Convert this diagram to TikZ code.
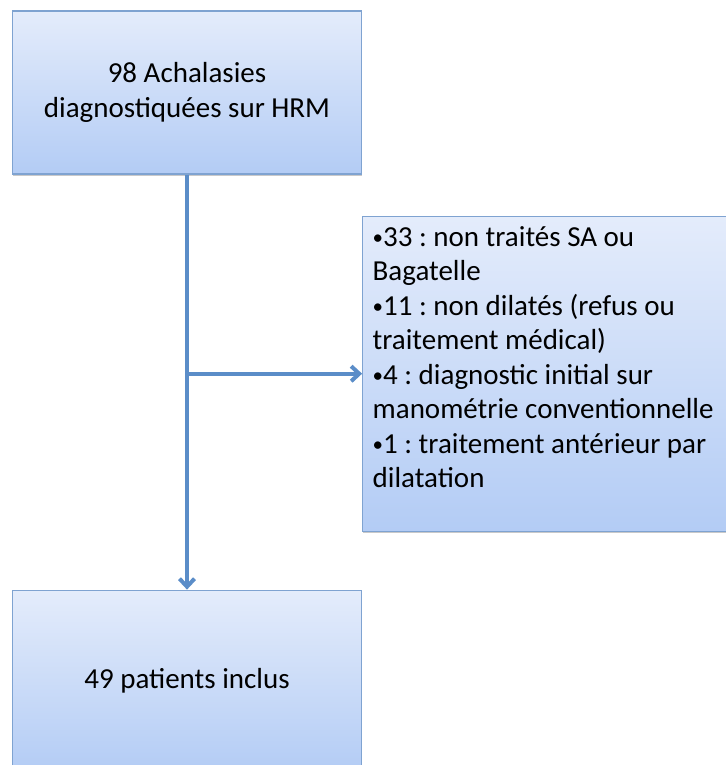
\documentclass[tikz,border=0pt]{standalone}
\usepackage{fontspec}
\setmainfont{Carlito}
\usetikzlibrary{positioning,arrows.meta,shadows}

\definecolor{boxtop}{HTML}{E4ECFB}
\definecolor{boxbottom}{HTML}{B3CCF5}
\definecolor{boxline}{HTML}{7FA3D1}
\definecolor{flowline}{HTML}{5B8DC8}
\newcommand{\blt}{{\fontsize{21}{34.5}\selectfont\raisebox{0.12ex}{•}}}
\frenchspacing

\begin{document}
\begin{tikzpicture}[
        stage/.style={draw=boxline, line width=1.2pt, top color=boxtop, bottom color=boxbottom,
            drop shadow={shadow xshift=0.6pt, shadow yshift=-1.8pt, opacity=0.3, fill=black!70},
            font=\fontsize{29}{34.5}\selectfont, align=center, inner sep=10pt},
        flow/.style={draw=flowline, line width=4pt, -{Straight Barb[length=8pt,width=15pt]}}
        ]
        \useasboundingbox (0,0) rectangle (725pt,-765pt);
        % Nodes
        \node (achal) [stage, minimum width=349pt, minimum height=163pt] at (187pt,-92.5pt) {98 Achalasies\\diagnostiquées sur HRM};
        \node (excl) [stage, below right=41pt and 0pt of achal.south east, minimum width=361pt, minimum height=315pt] {\parbox[c][295pt][t]{352pt}{\raggedright
            \blt33 : non traités SA ou\\Bagatelle\\\blt11 : non dilatés (refus ou\\traitement médical)\\\blt4 : diagnostic initial sur\\manométrie conventionnelle\\\blt1 : traitement antérieur par\\dilatation}};
        \node (incl) [stage, below=415pt of achal, minimum width=349pt, minimum height=182pt] {49 patients inclus};
        \coordinate (split) at (achal.south |- excl.west);

        % Arrows
        \draw[flow] (achal) -- (incl);
        \draw[flow] (split) -- (excl);
    \end{tikzpicture}
\end{document}
